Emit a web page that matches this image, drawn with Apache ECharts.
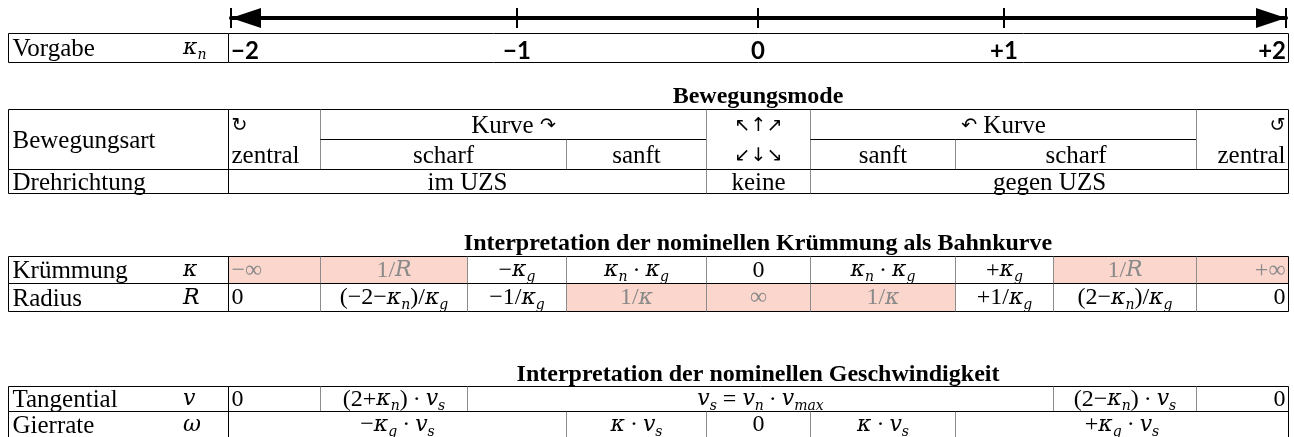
<!DOCTYPE html>
<html>
<head>
<meta charset="utf-8">
<script src="https://cdn.jsdelivr.net/npm/echarts@6/dist/echarts.min.js"></script>
<style>
  html, body { margin: 0; padding: 0; background: #fff; }
  #chart { width: 1294px; height: 437px; }
</style>
</head>
<body>
<div id="chart"></div>
<script>
// ---------- data ----------
const kappaTicks = ['−2', '−1', '0', '+1', '+2'];
const titles = [
  'Bewegungsmode',
  'Interpretation der nominellen Krümmung als Bahnkurve',
  'Interpretation der nominellen Geschwindigkeit'
];
const rowLabels = ['Vorgabe', 'Bewegungsart', 'Drehrichtung', 'Krümmung', 'Radius', 'Tangential', 'Gierrate'];
const rowSymbols = ['κ_n', '', '', 'κ', 'R', 'v', 'ω'];

// [colFrom, colTo, rowFrom, rowTo, text]
const modeCells = [
  [1, 2, 0, 2, '↻\nzentral'],
  [2, 5, 0, 1, 'Kurve ↷'],
  [2, 4, 1, 2, 'scharf'],
  [4, 5, 1, 2, 'sanft'],
  [5, 6, 0, 2, '↖↑↗\n↙↓↘'],
  [6, 9, 0, 1, '↶ Kurve'],
  [6, 7, 1, 2, 'sanft'],
  [7, 9, 1, 2, 'scharf'],
  [9, 10, 0, 2, '↺\nzentral'],
  [1, 5, 2, 3, 'im UZS'],
  [5, 6, 2, 3, 'keine'],
  [6, 10, 2, 3, 'gegen UZS']
];
const kruemmung = ['−∞', '1/R', '−κ_g', 'κ_n·κ_g', '0', 'κ_n·κ_g', '+κ_g', '1/R', '+∞'];
const kruemmungMarked = [1, 1, 0, 0, 0, 0, 0, 1, 1];
const radius = ['0', '(−2−κ_n)/κ_g', '−1/κ_g', '1/κ', '∞', '1/κ', '+1/κ_g', '(2−κ_n)/κ_g', '0'];
const radiusMarked = [0, 0, 0, 1, 1, 1, 0, 0, 0];
// [colFrom, colTo, text]
const tangential = [[1, 2, '0'], [2, 3, '(2+κ_n)·v_s'], [3, 8, 'v_s = v_n·v_max'], [8, 9, '(2−κ_n)·v_s'], [9, 10, '0']];
const gierrate = [[1, 4, '−κ_g·v_s'], [4, 5, 'κ·v_s'], [5, 6, '0'], [6, 7, 'κ·v_s'], [7, 10, '+κ_g·v_s']];

// ---------- layout ----------
const W = 1294, H = 437;
const colX = [8, 228, 320, 467, 566, 706, 810, 955, 1053, 1196, 1288];
const tickX = [231, 517, 758, 1004, 1286];
const blocks = [
  { rowY: [33, 62] },
  { rowY: [109, 139, 169, 193], titleY: 97 },
  { rowY: [256, 283, 311], titleY: 244 },
  { rowY: [386, 411, 437], titleY: 375 }
];
// [block, rowFrom, rowTo] for each row label
const labelSpan = [[0, 0, 1], [1, 0, 2], [1, 2, 3], [2, 0, 1], [2, 1, 2], [3, 0, 1], [3, 1, 2]];

const SERIF = 'Liberation Serif';
const MATH_IT = 'DejaVu Serif';
const GRAY_LINE = '#8c8c8c';
const PINK = '#fbd6cc';

const cells = [];
function addCell(block, c0, c1, r0, r1, text, kind, marked, symbol) {
  const rows = blocks[block].rowY;
  cells.push({ x0: colX[c0], x1: colX[c1], y0: rows[r0], y1: rows[r1], c0, c1, text, kind, marked: !!marked, symbol });
}
rowLabels.forEach((t, k) => {
  const s = labelSpan[k];
  addCell(s[0], 0, 1, s[1], s[2], t, 'label', 0, rowSymbols[k]);
});
addCell(0, 1, 10, 0, 1, '', 'plain');
modeCells.forEach(c => addCell(1, c[0], c[1], c[2], c[3], c[4], 'plain'));
kruemmung.forEach((t, k) => addCell(2, k + 1, k + 2, 0, 1, t, 'math', kruemmungMarked[k]));
radius.forEach((t, k) => addCell(2, k + 1, k + 2, 1, 2, t, 'math', radiusMarked[k]));
tangential.forEach(c => addCell(3, c[0], c[1], 0, 1, c[2], 'math'));
gierrate.forEach(c => addCell(3, c[0], c[1], 1, 2, c[2], 'math'));
titles.forEach((t, k) => {
  const y = blocks[k + 1].titleY;
  cells.push({ x0: tickX[2], x1: tickX[2], y0: y, y1: y, text: t, kind: 'title' });
});

// ---------- text helpers ----------
const mathRich = {
  i: { fontFamily: MATH_IT, fontStyle: 'italic', fontSize: 22, verticalAlign: 'middle' },
  m: { fontFamily: SERIF, fontSize: 24, verticalAlign: 'middle' },
  d: { fontFamily: SERIF, fontSize: 24, padding: [0, 5], verticalAlign: 'middle' },
  s: { fontFamily: MATH_IT, fontStyle: 'italic', fontSize: 14, padding: [14, 0, 0, 0], verticalAlign: 'middle' }
};
const plainRich = {
  a: { fontFamily: 'DejaVu Sans', fontSize: 19, lineHeight: 30 }
};

function mathText(s) {
  let out = '';
  let i = 0;
  while (i < s.length) {
    const ch = s[i];
    if (ch === '_') {
      let j = i + 1;
      while (j < s.length && /[a-zA-Zα-ω]/.test(s[j])) j++;
      out += '{s|' + s.slice(i + 1, j) + '}';
      i = j;
    } else if (/[a-zA-Zα-ω]/.test(ch)) {
      out += '{i|' + ch + '}';
      i++;
    } else if (ch === '·') {
      out += '{d|' + ch + '}';
      i++;
    } else {
      out += '{m|' + ch + '}';
      i++;
    }
  }
  return out;
}
function plainText(s) {
  return s.replace(/[↶↷↻↺↖↑↗↙↓↘]+/g, m => '{a|' + m + '}');
}

function line(x1, y1, x2, y2, color) {
  return { type: 'line', shape: { x1, y1, x2, y2 }, style: { stroke: color, lineWidth: 1 } };
}

function renderFill(params, api) {
  const c = cells[params.dataIndex];
  if (!c.marked) return null;
  const p0 = api.coord([api.value(0), api.value(1)]);
  const p1 = api.coord([api.value(2), api.value(3)]);
  return {
    type: 'rect',
    shape: { x: p0[0], y: p0[1], width: p1[0] - p0[0], height: p1[1] - p0[1] },
    style: { fill: PINK }
  };
}

function renderCell(params, api) {
  const c = cells[params.dataIndex];
  const p0 = api.coord([api.value(0), api.value(1)]);
  const p1 = api.coord([api.value(2), api.value(3)]);
  const children = [];
  if (c.kind === 'title') {
    children.push({
      type: 'text',
      style: { text: c.text, x: p0[0], y: p0[1], align: 'center', verticalAlign: 'middle',
        fontFamily: SERIF, fontWeight: 'bold', fontSize: 24, fill: '#000' }
    });
    return { type: 'group', children };
  }
  const L = Math.round(p0[0]) + 0.5, R = Math.round(p1[0]) + 0.5;
  const T = Math.round(p0[1]) + 0.5, B = Math.round(p1[1]) + 0.5;
  const last = colX.length - 1;
  children.push(line(L, T, L, B, c.c0 <= 1 ? '#000' : GRAY_LINE));
  children.push(line(R, T, R, B, (c.c1 === last || c.c1 === 1) ? '#000' : GRAY_LINE));
  children.push(line(L, T, R, T, '#000'));
  children.push(line(L, B, R, B, '#000'));

  const cy = (p0[1] + p1[1]) / 2;
  if (c.kind === 'label') {
    children.push({
      type: 'text',
      style: { text: c.text, x: L + 4, y: cy + 2, align: 'left', verticalAlign: 'middle',
        fontFamily: SERIF, fontSize: 25, fill: '#000' }
    });
    if (c.symbol) {
      children.push({
        type: 'text',
        style: { text: mathText(c.symbol), rich: mathRich, x: colX[1] - 45, y: cy + 1, align: 'left',
          verticalAlign: 'middle', fontFamily: SERIF, fontSize: 24, fill: '#000' }
      });
    }
    return { type: 'group', children };
  }
  if (!c.text) return { type: 'group', children };

  let x = (L + R) / 2, align = 'center';
  if (c.c0 === 1 && c.c1 === 2) { x = L + 3; align = 'left'; }
  if (c.c0 === last - 1 && c.c1 === last) { x = R - 3; align = 'right'; }
  if (c.kind === 'math') {
    children.push({
      type: 'text',
      style: { text: mathText(c.text), rich: mathRich, x, y: cy + 1, align, verticalAlign: 'middle',
        fontFamily: SERIF, fontSize: 24, fill: c.marked ? '#8a8a8a' : '#000' }
    });
  } else {
    children.push({
      type: 'text',
      style: { text: plainText(c.text), rich: plainRich, x, y: cy + 2, align, verticalAlign: 'middle',
        fontFamily: SERIF, fontSize: 25, lineHeight: 30, fill: '#000' }
    });
  }
  return { type: 'group', children };
}

const cellData = cells.map(c => [c.x0, c.y0, c.x1, c.y1]);

const chart = echarts.init(document.getElementById('chart'));
chart.setOption({
  animation: false,
  backgroundColor: '#fff',
  grid: [
    { left: 0, right: 0, top: 0, bottom: 0 },
    { left: tickX[0], right: W - tickX[4], top: 0, height: 18 }
  ],
  xAxis: [
    { gridIndex: 0, type: 'value', min: 0, max: W, show: false },
    {
      gridIndex: 1, type: 'value', min: tickX[0], max: tickX[4], position: 'bottom',
      axisLine: {
        show: true, lineStyle: { color: '#000', width: 4 },
        symbol: ['triangle', 'triangle'], symbolSize: [20, 30], symbolOffset: [15, -15]
      },
      axisTick: { show: true, customValues: tickX, length: 10, lineStyle: { color: '#000', width: 2 } },
      axisLabel: {
        show: true, customValues: tickX, margin: 21,
        formatter: v => kappaTicks[tickX.indexOf(v)],
        fontFamily: 'Lato', fontWeight: 'bold', fontSize: 24, color: '#000',
        showMinLabel: true, showMaxLabel: true, alignMinLabel: 'left', alignMaxLabel: 'right'
      },
      splitLine: { show: false }
    },
    {
      gridIndex: 1, type: 'value', min: tickX[0], max: tickX[4], position: 'bottom',
      axisLine: { show: false },
      axisTick: { show: true, inside: true, customValues: tickX, length: 10, lineStyle: { color: '#000', width: 2 } },
      axisLabel: { show: false },
      splitLine: { show: false }
    }
  ],
  yAxis: [
    { gridIndex: 0, type: 'value', min: 0, max: H, inverse: true, show: false },
    { gridIndex: 1, type: 'value', show: false }
  ],
  series: [
    {
      type: 'custom', xAxisIndex: 0, yAxisIndex: 0, z: 1,
      renderItem: renderFill, data: cellData, silent: true
    },
    {
      type: 'custom', xAxisIndex: 0, yAxisIndex: 0, z: 2,
      renderItem: renderCell, data: cellData, silent: true
    }
  ]
});
</script>
</body>
</html>
